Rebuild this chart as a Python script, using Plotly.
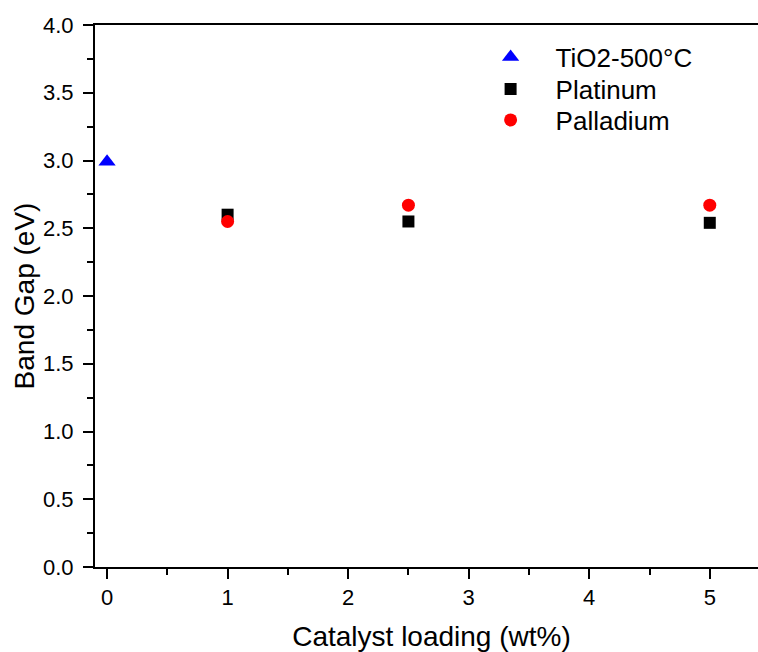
import plotly.graph_objects as go

# Data
tio2_x = [0]
tio2_y = [2.99]
pt_x = [1, 2.5, 5]
pt_y = [2.60, 2.55, 2.54]
pd_x = [1, 2.5, 5]
pd_y = [2.55, 2.67, 2.67]

FONT = "Liberation Sans, Arial, sans-serif"

fig = go.Figure()
fig.add_trace(go.Scatter(x=tio2_x, y=tio2_y, mode="markers", name="TiO2-500°C",
                         legend="legend",
                         marker=dict(symbol="triangle-up", color="#0000ff", size=15)))
fig.add_trace(go.Scatter(x=pt_x, y=pt_y, mode="markers", name="Platinum",
                         legend="legend2",
                         marker=dict(symbol="square", color="#000000", size=12)))
fig.add_trace(go.Scatter(x=pd_x, y=pd_y, mode="markers", name="Palladium",
                         legend="legend3",
                         marker=dict(symbol="circle", color="#ff0000", size=13)))

# plot area runs slightly past the window's right edge (673 px wide)
PLOT_W = 673
leg_x = (465.6 - 95) / PLOT_W
leg_common = dict(x=leg_x, xanchor="left", yanchor="top",
                  font=dict(size=26), bgcolor="rgba(0,0,0,0)",
                  itemwidth=80, itemclick=False, itemdoubleclick=False)

fig.update_layout(
    width=95 + PLOT_W, height=652,
    margin=dict(l=95, r=0, t=25, b=85, autoexpand=False),
    paper_bgcolor="white", plot_bgcolor="white",
    font=dict(family=FONT, color="black", size=22),
    showlegend=True,
    legend=dict(y=0.984, **leg_common),
    legend2=dict(y=0.925, **leg_common),
    legend3=dict(y=0.868, **leg_common),
)
fig.update_xaxes(
    range=[-0.1, 5.483], showgrid=False, zeroline=False, automargin=False,
    showline=True, linecolor="black", linewidth=2, mirror=True,
    ticks="outside", ticklen=10, tickwidth=2, tickcolor="black",
    tick0=0, dtick=1, tickfont=dict(size=22), ticklabelstandoff=0,
    minor=dict(ticks="outside", ticklen=6, tickwidth=2, tickcolor="black", dtick=0.5),
    title=dict(text="Catalyst loading (wt%)", font=dict(size=28), standoff=24),
)
fig.update_yaxes(
    range=[0, 4.0], showgrid=False, zeroline=False, automargin=False,
    showline=True, linecolor="black", linewidth=2,
    ticks="outside", ticklen=10, tickwidth=2, tickcolor="black",
    tick0=0, dtick=0.5, tickformat=".1f", tickfont=dict(size=22), ticklabelstandoff=5,
    minor=dict(ticks="outside", ticklen=6, tickwidth=2, tickcolor="black", dtick=0.25),
    title=dict(text="Band Gap (eV)", font=dict(size=28), standoff=0),
)

fig.write_html(
    "out.html",
    config={"displayModeBar": False},
    post_script="document.body.style.margin='0';document.body.style.overflow='hidden';",
)
